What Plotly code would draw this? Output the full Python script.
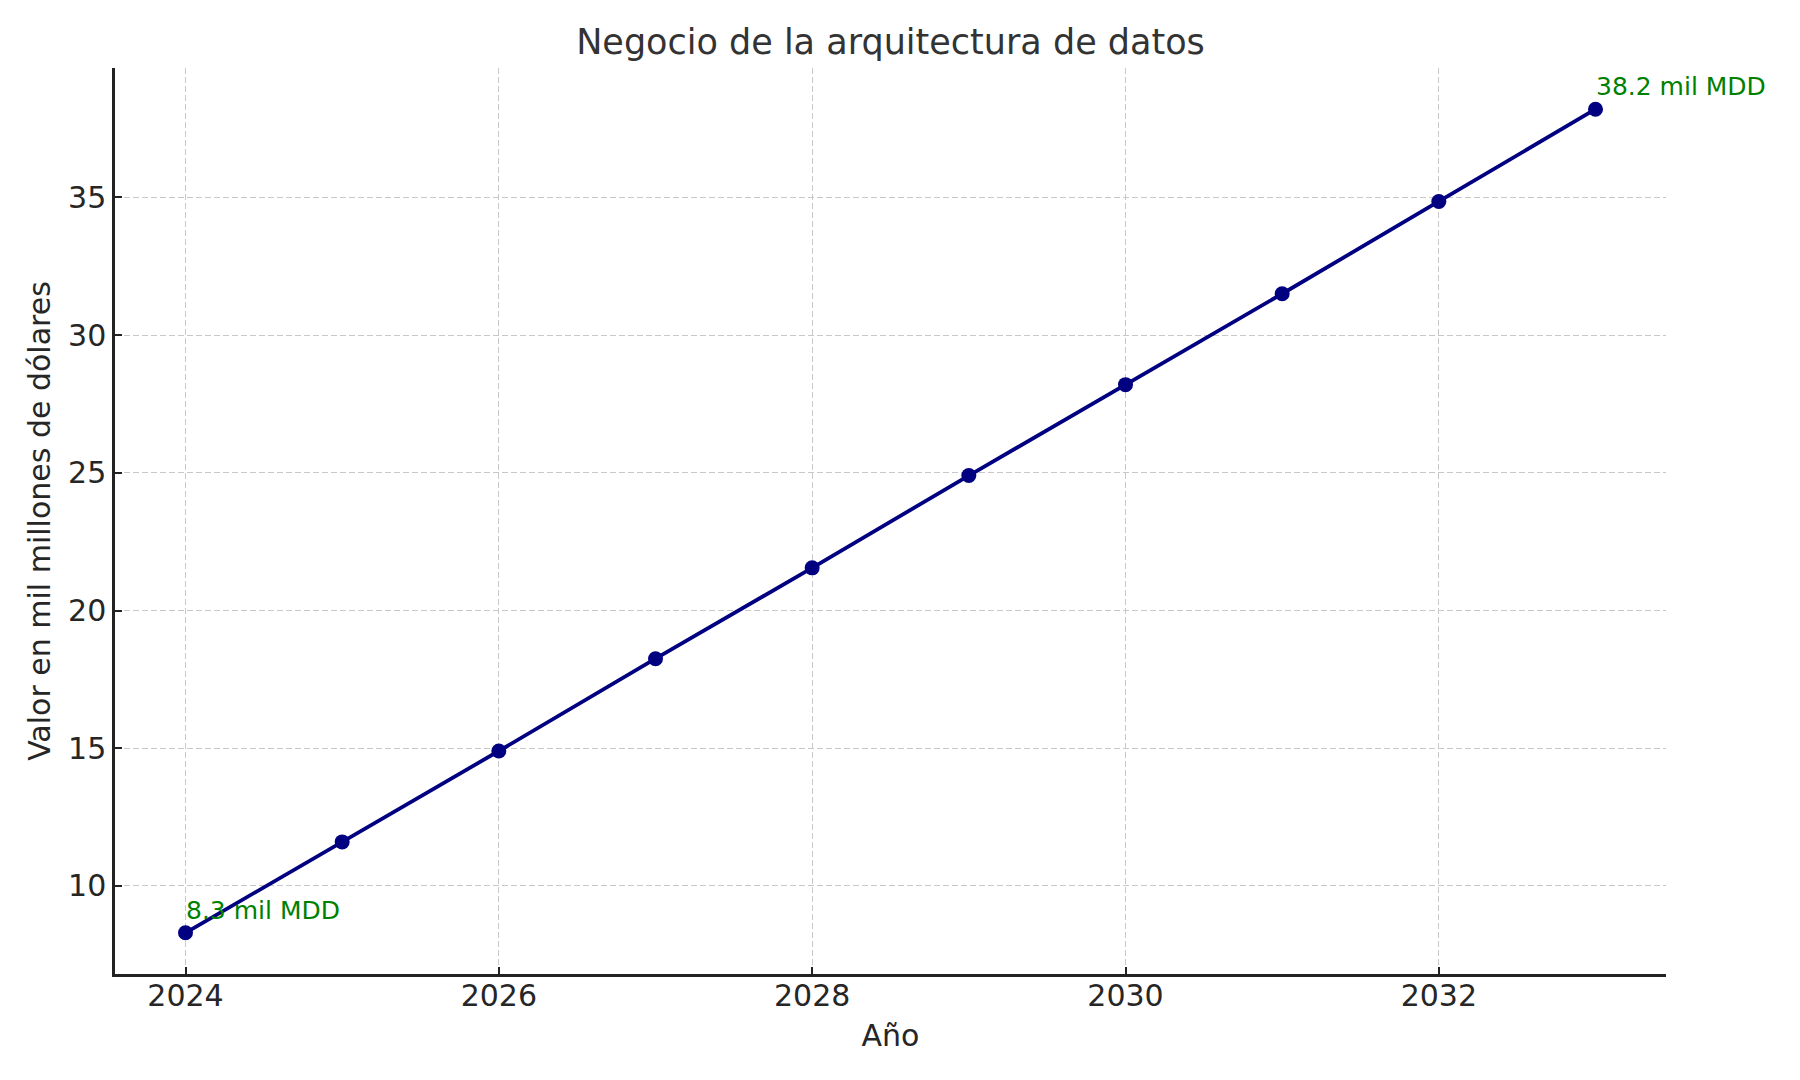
import plotly.graph_objects as go

# valores (miles de millones de dolares)
years = [2024, 2025, 2026, 2027, 2028, 2029, 2030, 2031, 2032, 2033]
values = [8.3, 11.6, 14.9, 18.25, 21.55, 24.9, 28.2, 31.5, 34.85, 38.2]
x_ticks = [2024, 2026, 2028, 2030, 2032]
y_ticks = [10, 15, 20, 25, 30, 35]
labels = ["8.3 mil MDD", "38.2 mil MDD"]

FONT = "DejaVu Sans"

fig = go.Figure()
fig.add_trace(go.Scatter(
    x=years, y=values, mode="lines+markers",
    line=dict(color="#000080", width=3.8),
    marker=dict(color="#000080", size=15),
    showlegend=False,
))

# etiquetas en el primer y ultimo punto
for idx, txt in zip([0, -1], labels):
    fig.add_annotation(
        x=years[idx], y=values[idx], text=txt, showarrow=False,
        xanchor="left", yanchor="bottom", yshift=6, xshift=-2,
        font=dict(family=FONT, size=25, color="#008000"),
    )

span_x = years[-1] - years[0]
span_y = max(values) - min(values)

axis_common = dict(
    showline=True, linecolor="#222222", linewidth=2.5,
    ticks="inside", ticklen=7, tickwidth=2, tickcolor="#222222",
    showgrid=True, gridcolor="#c8c8c8", griddash="6px,3px", gridwidth=1.3,
    zeroline=False, mirror=False,
    tickfont=dict(family=FONT, size=30, color="#262626"),
)

fig.update_xaxes(
    range=[years[0] - 0.05 * span_x, years[-1] + 0.05 * span_x],
    tickvals=x_ticks, ticklabelstandoff=-7,
    title=dict(text="Año", font=dict(family=FONT, size=30, color="#262626"), standoff=14),
    **axis_common,
)
fig.update_yaxes(
    range=[min(values) - 0.05 * span_y, max(values) + 0.05 * span_y],
    tickvals=y_ticks,
    title=dict(text="Valor en mil millones de dólares",
               font=dict(family=FONT, size=30, color="#262626"), standoff=9),
    **axis_common,
)

fig.update_layout(
    width=1800, height=1080,
    margin=dict(l=107, r=142, t=60, b=114),
    plot_bgcolor="white", paper_bgcolor="white",
    title=dict(text="Negocio de la arquitectura de datos",
               font=dict(family=FONT, size=35, color="#333333"),
               x=0.5, xref="paper", xanchor="center",
               y=1 - 34 / 1080, yref="container", yanchor="middle"),
)

fig.write_html("out.html")
